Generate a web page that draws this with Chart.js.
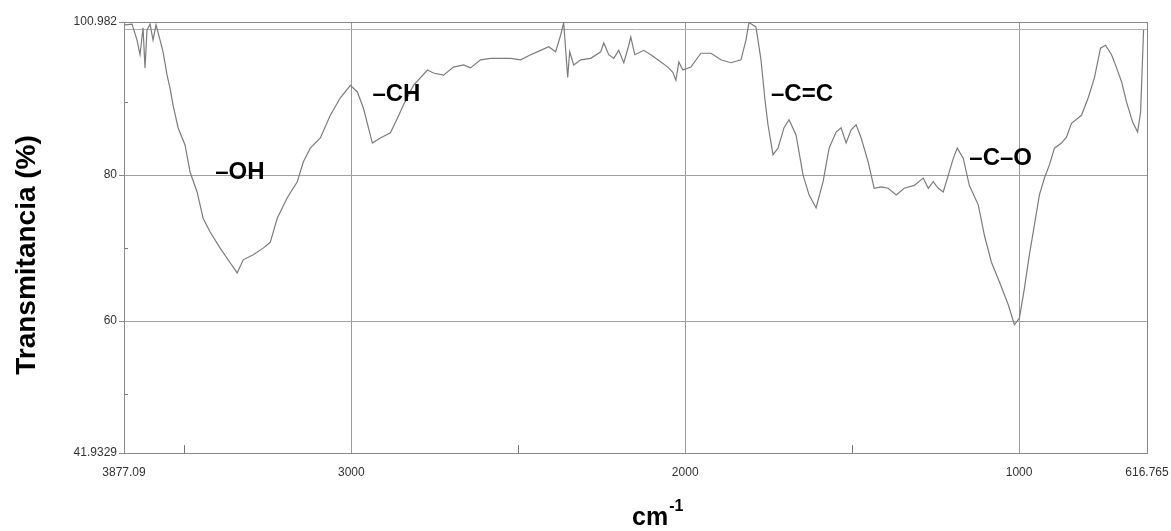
<!DOCTYPE html>
<html>
<head>
<meta charset="utf-8">
<script src="https://cdn.jsdelivr.net/npm/chart.js@4.4.1/dist/chart.umd.min.js"></script>
<style>
  html, body { margin: 0; padding: 0; background: #fff; }
  #wrap { width: 1171px; height: 531px; }
</style>
</head>
<body>
<div id="wrap"><canvas id="irChart" width="1171" height="531"></canvas></div>
<script>
// IR spectrum (cm-1 / % transmittance)
const wavenumbers = [
    3678, 3657, 3642, 3633, 3624, 3618, 3612, 3603, 3594, 3585,
    3573, 3564, 3552, 3543, 3534, 3519, 3498, 3483, 3462, 3444,
    3423, 3393, 3363, 3342, 3324, 3294, 3264, 3243, 3222, 3192,
    3162, 3144, 3123, 3093, 3063, 3033, 3003, 2982, 2964, 2937,
    2913, 2883, 2862, 2844, 2814, 2772, 2754, 2724, 2694, 2664,
    2643, 2613, 2583, 2553, 2523, 2493, 2463, 2433, 2409, 2388,
    2373, 2364, 2352, 2346, 2334, 2313, 2283, 2253, 2244, 2229,
    2214, 2199, 2184, 2169, 2163, 2151, 2124, 2103, 2082, 2052,
    2037, 2028, 2019, 2007, 1983, 1953, 1923, 1893, 1863, 1833,
    1818, 1809, 1788, 1773, 1761, 1752, 1737, 1722, 1704, 1689,
    1668, 1647, 1629, 1608, 1587, 1569, 1548, 1533, 1518, 1503,
    1488, 1473, 1452, 1434, 1413, 1392, 1368, 1344, 1314, 1287,
    1272, 1257, 1242, 1227, 1212, 1197, 1185, 1167, 1149, 1122,
    1104, 1083, 1059, 1032, 1014, 999, 984, 969, 954, 939,
    924, 909, 894, 873, 858, 843, 813, 792, 774, 756,
    741, 723, 708, 693, 678, 660, 645, 636, 627
];
const transmittance = [
    100.6, 100.7, 98.5, 96.5, 100.2, 94.7, 99.9, 100.7, 98.5, 100.6,
    98.5, 96.9, 93.7, 91.9, 89.6, 86.5, 84.1, 80.4, 77.7, 74.1,
    72.2, 70.0, 68.0, 66.6, 68.4, 69.1, 70.0, 70.8, 74.1, 76.9,
    79.1, 81.8, 83.7, 85.1, 88.2, 90.6, 92.3, 91.4, 89.2, 84.4,
    85.1, 85.8, 87.8, 89.6, 92.3, 94.4, 94.0, 93.7, 94.8, 95.1,
    94.7, 95.8, 96.0, 96.0, 96.0, 95.8, 96.5, 97.1, 97.6, 96.9,
    99.2, 100.9, 93.4, 96.9, 95.1, 95.8, 96.0, 96.9, 98.1, 96.5,
    96.0, 97.1, 95.4, 97.8, 98.9, 96.5, 97.1, 96.5, 95.8, 94.8,
    94.1, 93.0, 95.5, 94.4, 94.8, 96.7, 96.7, 95.8, 95.4, 95.8,
    98.5, 100.9, 100.3, 95.8, 90.3, 86.9, 82.8, 83.7, 86.5, 87.6,
    85.5, 80.0, 77.3, 75.5, 79.1, 83.7, 85.9, 86.5, 84.4, 86.2,
    86.9, 85.1, 81.8, 78.2, 78.4, 78.2, 77.3, 78.2, 78.6, 79.6,
    78.2, 79.1, 78.2, 77.7, 80.0, 82.3, 83.7, 82.3, 78.6, 75.9,
    71.8, 68.1, 65.4, 62.2, 59.5, 60.4, 64.5, 69.1, 73.2, 77.3,
    79.6, 81.4, 83.7, 84.4, 85.2, 87.1, 88.2, 90.7, 93.4, 97.4,
    97.8, 96.5, 94.7, 92.8, 90.0, 87.3, 85.9, 88.6, 99.9
];

// axis ticks (the left edge is printed as 3877.09 on the original)
const xTickValues = [3681, 3000, 2000, 1000, 616.765];
const xTickLabels = ['3877.09', '3000', '2000', '1000', '616.765'];
const xMinorTicks = [3500, 2500, 1500];
const yTickValues = [41.9329, 60, 80, 100.982];
const yTickLabels = ['41.9329', '60', '80', '100.982'];
const yMinorTicks = [50, 70, 90];

// band labels
const bandNames = ['–OH', '–CH', '–C=C', '–C–O'];
const bandX = [3408, 2937, 1743, 1149];
const bandY = [80.4, 91.1, 91.0, 82.3];

const points = wavenumbers.map((w, i) => ({ x: w, y: transmittance[i] }));

const framePlugin = {
    id: 'frame',
    beforeDatasetsDraw(chart) {
        const { ctx, chartArea: a, scales } = chart;
        ctx.save();
        // 100 % line
        ctx.strokeStyle = '#b0b0b0';
        ctx.lineWidth = 1;
        const y100 = Math.round(scales.y.getPixelForValue(100)) + 0.5;
        ctx.beginPath();
        ctx.moveTo(a.left, y100);
        ctx.lineTo(a.right, y100);
        ctx.stroke();
        // minor ticks
        ctx.strokeStyle = '#777';
        ctx.beginPath();
        xMinorTicks.forEach(v => {
            const x = Math.round(scales.x.getPixelForValue(v)) + 0.5;
            ctx.moveTo(x, a.bottom);
            ctx.lineTo(x, a.bottom - 8);
        });
        yMinorTicks.forEach(v => {
            const y = Math.round(scales.y.getPixelForValue(v)) + 0.5;
            ctx.moveTo(a.left, y);
            ctx.lineTo(a.left + 4, y);
        });
        ctx.stroke();
        // box
        ctx.strokeStyle = '#888';
        ctx.strokeRect(Math.round(a.left) + 0.5, Math.round(a.top) + 0.5,
            Math.round(a.right - a.left), Math.round(a.bottom - a.top));
        ctx.restore();
    },
    afterDraw(chart) {
        const { ctx, scales } = chart;
        ctx.save();
        ctx.fillStyle = '#000';
        // band labels
        ctx.font = 'bold 24px "Liberation Sans", Arial, sans-serif';
        ctx.textAlign = 'left';
        ctx.textBaseline = 'middle';
        bandNames.forEach((t, i) => {
            ctx.fillText(t, scales.x.getPixelForValue(bandX[i]), scales.y.getPixelForValue(bandY[i]));
        });
        // y title
        ctx.save();
        ctx.translate(35, 255);
        ctx.rotate(-Math.PI / 2);
        ctx.font = 'bold 28px "Liberation Sans", Arial, sans-serif';
        ctx.textAlign = 'center';
        ctx.textBaseline = 'alphabetic';
        ctx.fillText('Transmitancia (%)', 0, 0);
        ctx.restore();
        // x title cm-1
        ctx.textBaseline = 'alphabetic';
        ctx.font = 'bold 25px "Liberation Sans", Arial, sans-serif';
        ctx.fillText('cm', 632, 525);
        const w = ctx.measureText('cm').width;
        ctx.font = 'bold 16px "Liberation Sans", Arial, sans-serif';
        ctx.fillText('-1', 632 + w + 1, 511);
        ctx.restore();
    }
};

const ctx = document.getElementById('irChart').getContext('2d');
const chart = new Chart(ctx, {
    type: 'line',
    data: {
        datasets: [{
            data: points,
            borderColor: '#7c7c7c',
            borderWidth: 1.2,
            pointRadius: 0,
            tension: 0,
            fill: false
        }]
    },
    options: {
        responsive: false,
        animation: false,
        layout: { padding: { top: 22, right: 24, left: 0, bottom: 0 } },
        plugins: {
            legend: { display: false },
            tooltip: { enabled: false }
        },
        scales: {
            x: {
                type: 'linear',
                reverse: true,
                min: 616.765,
                max: 3681,
                afterBuildTicks: s => { s.ticks = xTickValues.map(v => ({ value: v })); },
                afterFit: s => {
                    s.height = 78;
                    s.paddingLeft = 0;
                    s.paddingRight = 0;
                },
                grid: {
                    drawTicks: false,
                    color: c => (c.tick && c.index > 0 && c.index < xTickValues.length - 1) ? '#9a9a9a' : 'rgba(0,0,0,0)',
                    lineWidth: 1
                },
                border: { color: '#888', width: 1 },
                ticks: {
                    autoSkip: false,
                    maxRotation: 0,
                    padding: 12,
                    color: '#333',
                    font: { family: '"Liberation Sans", Arial, sans-serif', size: 12 },
                    callback: (v, i) => xTickLabels[i]
                }
            },
            y: {
                type: 'linear',
                min: 41.9329,
                max: 100.982,
                afterBuildTicks: s => { s.ticks = yTickValues.map(v => ({ value: v })); },
                afterFit: s => {
                    s.width = 124;
                    s.paddingTop = 0;
                    s.paddingBottom = 0;
                },
                grid: {
                    tickLength: 5,
                    tickColor: '#888',
                    color: c => (c.index > 0 && c.index < yTickValues.length - 1) ? '#a0a0a0' : 'rgba(0,0,0,0)',
                    lineWidth: 1
                },
                border: { color: '#888', width: 1 },
                ticks: {
                    padding: 2,
                    color: '#333',
                    font: { family: '"Liberation Sans", Arial, sans-serif', size: 12 },
                    callback: (v, i) => yTickLabels[i]
                }
            }
        }
    },
    plugins: [framePlugin]
});
</script>
</body>
</html>
